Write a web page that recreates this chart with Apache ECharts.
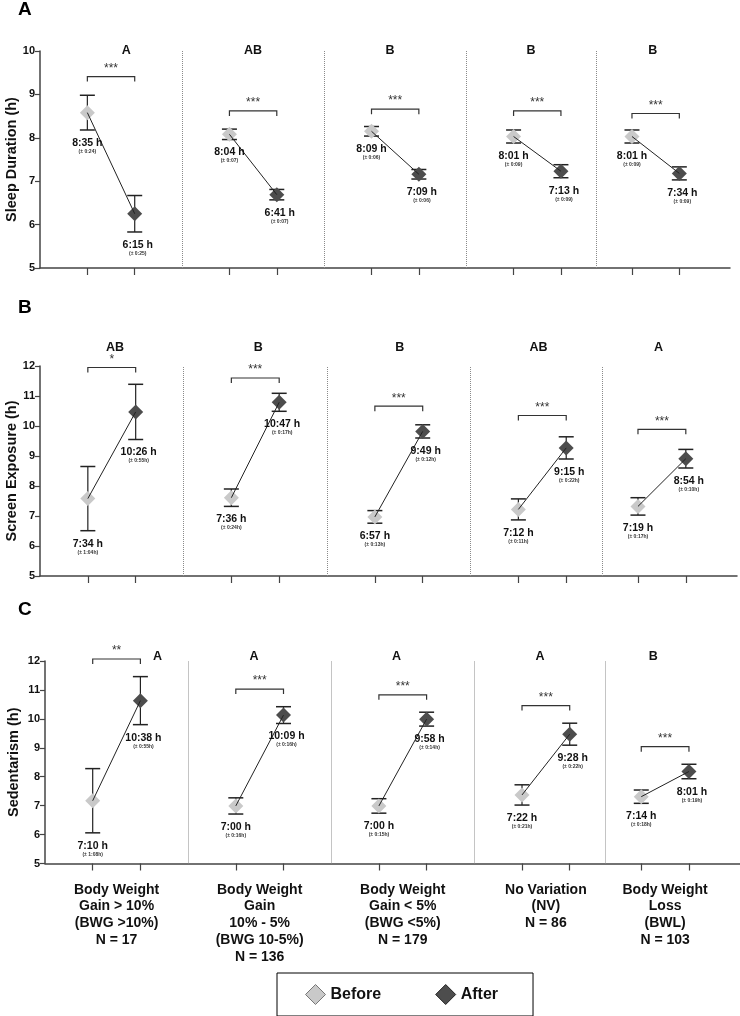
<!DOCTYPE html>
<html lang="en">
<head>
<meta charset="UTF-8">
<title>Before / After by body weight group</title>
<script src="https://cdn.jsdelivr.net/npm/echarts@6/dist/echarts.min.js"></script>
<style>
  html, body { margin: 0; padding: 0; background: #fff; }
  #chart { width: 740px; height: 1016px; }
</style>
</head>
<body>
<div id="chart"></div>
<script>
// slots on the shared x value axis
var beforeX = [1, 4, 7, 10, 12.5];
var afterX = [2, 5, 8, 11, 13.5];
var dividerX = [3, 6, 9, 11.75];
var groupCenters = [1.5, 4.5, 7.5, 10.5, 13];
var groupLabels = [
  'Body Weight\nGain > 10%\n(BWG >10%)\nN = 17',
  'Body Weight\nGain\n10% - 5%\n(BWG 10-5%)\nN = 136',
  'Body Weight\nGain < 5%\n(BWG <5%)\nN = 179',
  'No Variation\n(NV)\nN = 86',
  'Body Weight\nLoss\n(BWL)\nN = 103'
];

// A - sleep duration (h)
var sleepBefore = [8.58, 8.08, 8.15, 8.03, 8.03];
var sleepBeforeErr = [0.40, 0.12, 0.11, 0.15, 0.15];
var sleepAfter = [6.25, 6.69, 7.16, 7.23, 7.18];
var sleepAfterErr = [0.42, 0.12, 0.11, 0.15, 0.15];
var sleepBeforeText = ['8:35 h', '8:04 h', '8:09 h', '8:01 h', '8:01 h'];
var sleepBeforeSd = ['(± 0:24)', '(± 0:07)', '(± 0:06)', '(± 0:09)', '(± 0:09)'];
var sleepAfterText = ['6:15 h', '6:41 h', '7:09 h', '7:13 h', '7:34 h'];
var sleepAfterSd = ['(± 0:25)', '(± 0:07)', '(± 0:06)', '(± 0:09)', '(± 0:09)'];
var sleepSig = ['***', '***', '***', '***', '***'];
var sleepSigY = [9.41, 8.62, 8.66, 8.62, 8.56];
var sleepLetters = ['A', 'AB', 'B', 'B', 'B'];

// B - screen exposure (h)
var screenBefore = [7.58, 7.61, 6.97, 7.22, 7.32];
var screenBeforeErr = [1.07, 0.29, 0.21, 0.35, 0.29];
var screenAfter = [10.47, 10.79, 9.82, 9.27, 8.91];
var screenAfterErr = [0.92, 0.30, 0.22, 0.37, 0.31];
var screenBeforeText = ['7:34 h', '7:36 h', '6:57 h', '7:12 h', '7:19 h'];
var screenBeforeSd = ['(± 1:04h)', '(± 0:24h)', '(± 0:13h)', '(± 0:11h)', '(± 0:17h)'];
var screenAfterText = ['10:26 h', '10:47 h', '9:49 h', '9:15 h', '8:54 h'];
var screenAfterSd = ['(± 0:55h)', '(± 0:17h)', '(± 0:12h)', '(± 0:22h)', '(± 0:10h)'];
var screenSig = ['*', '***', '***', '***', '***'];
var screenSigY = [11.95, 11.6, 10.66, 10.35, 9.89];
var screenLetters = ['AB', 'B', 'B', 'AB', 'A'];

// C - sedentarism (h)
var sedBefore = [7.17, 6.99, 6.99, 7.37, 7.31];
var sedBeforeErr = [1.11, 0.28, 0.25, 0.35, 0.23];
var sedAfter = [10.63, 10.13, 9.99, 9.47, 8.18];
var sedAfterErr = [0.83, 0.29, 0.24, 0.38, 0.25];
var sedBeforeText = ['7:10 h', '7:00 h', '7:00 h', '7:22 h', '7:14 h'];
var sedBeforeSd = ['(± 1:08h)', '(± 0:16h)', '(± 0:15h)', '(± 0:21h)', '(± 0:18h)'];
var sedAfterText = ['10:38 h', '10:09 h', '9:58 h', '9:28 h', '8:01 h'];
var sedAfterSd = ['(± 0:55h)', '(± 0:16h)', '(± 0:14h)', '(± 0:22h)', '(± 0:19h)'];
var sedSig = ['**', '***', '***', '***', '***'];
var sedSigY = [12.07, 11.03, 10.83, 10.46, 9.04];
var sedLetters = ['A', 'A', 'A', 'A', 'B'];

var FONT = '"Liberation Sans", Arial, Helvetica, sans-serif';
var BEFORE_COLOR = '#c9c9c9';
var AFTER_COLOR = '#4d4d4d';

var panels = [
  {tag: 'A', tagTop: 0, name: 'Sleep Duration (h)', nameGap: 21, min: 5, max: 10,
   grid: {left: 40, right: 10, top: 51, height: 217},
   before: sleepBefore, beforeErr: sleepBeforeErr, after: sleepAfter, afterErr: sleepAfterErr,
   beforeText: sleepBeforeText, beforeSd: sleepBeforeSd, afterText: sleepAfterText, afterSd: sleepAfterSd,
   sig: sleepSig, sigY: sleepSigY, letters: sleepLetters,
   letterX: [1.82, 4.5, 7.39, 10.37, 12.94], letterY: 10},
  {tag: 'B', tagTop: 298, name: 'Screen Exposure (h)', nameGap: 21, min: 5, max: 12,
   grid: {left: 40, right: 3, top: 366, height: 210},
   before: screenBefore, beforeErr: screenBeforeErr, after: screenAfter, afterErr: screenAfterErr,
   beforeText: screenBeforeText, beforeSd: screenBeforeSd, afterText: screenAfterText, afterSd: screenAfterSd,
   sig: screenSig, sigY: screenSigY, letters: screenLetters,
   letterX: [1.57, 4.56, 7.52, 10.42, 12.93], letterY: 12.63},
  {tag: 'C', tagTop: 600, name: 'Sedentarism (h)', nameGap: 24, min: 5, max: 12,
   grid: {left: 45, right: 0, top: 661, height: 202.5},
   before: sedBefore, beforeErr: sedBeforeErr, after: sedAfter, afterErr: sedAfterErr,
   beforeText: sedBeforeText, beforeSd: sedBeforeSd, afterText: sedAfterText, afterSd: sedAfterSd,
   sig: sedSig, sigY: sedSigY, letters: sedLetters,
   letterX: [2.36, 4.38, 7.37, 10.38, 12.75], letterY: 12.15}
];

var grids = [], xAxes = [], yAxes = [], series = [], graphics = [];

panels.forEach(function (p, i) {
  var last = i === panels.length - 1;
  var g0 = p.grid;
  grids.push({left: g0.left, right: g0.right, top: g0.top, height: g0.height,
              containLabel: false, outerBoundsMode: 'none'});

  xAxes.push({
    gridIndex: i, type: 'value', min: 0, max: 14.57,
    axisLine: {show: true, lineStyle: {color: '#444', width: 1.5}},
    axisTick: {show: true, customValues: beforeX.concat(afterX), length: 7,
               lineStyle: {color: '#444', width: 1.2}},
    splitLine: {show: false},
    axisLabel: last ? {
      show: true, customValues: groupCenters, margin: 18,
      fontFamily: FONT, fontSize: 14, fontWeight: 'bold', lineHeight: 16.7, color: '#111',
      formatter: function (v) {
        var k = 0;
        groupCenters.forEach(function (c, j) { if (Math.abs(c - v) < 0.01) k = j; });
        return groupLabels[k];
      }
    } : {show: false}
  });

  yAxes.push({
    gridIndex: i, type: 'value', min: p.min, max: p.max, interval: 1,
    name: p.name, nameLocation: 'middle', nameGap: p.nameGap, nameMoveOverlap: false,
    nameTextStyle: {fontFamily: FONT, fontSize: 14.5, fontWeight: 'bold', color: '#111'},
    axisLine: {show: true, lineStyle: {color: '#444', width: 1.5}},
    axisTick: {show: true, length: 5, lineStyle: {color: '#444', width: 1.2}},
    axisLabel: {fontFamily: FONT, fontSize: 11, fontWeight: 'bold', color: '#111', margin: 5},
    splitLine: {show: false}
  });

  graphics.push({type: 'text', left: 18, top: p.tagTop,
    style: {text: p.tag, font: 'bold 19px ' + FONT, fill: '#000'}});

  // error bars (drawn under diamonds), plus the dotted dividers
  var errData = [];
  p.before.forEach(function (v, g) {
    errData.push([beforeX[g], v - p.beforeErr[g], v + p.beforeErr[g]]);
    errData.push([afterX[g], p.after[g] - p.afterErr[g], p.after[g] + p.afterErr[g]]);
  });
  series.push({
    type: 'custom', name: 'err' + i, xAxisIndex: i, yAxisIndex: i, z: 1,
    encode: {x: 0, y: [1, 2]}, data: errData,
    renderItem: function (params, api) {
      var x = api.value(0);
      var lo = api.coord([x, api.value(1)]);
      var hi = api.coord([x, api.value(2)]);
      var w = 7.5, st = {stroke: '#222', lineWidth: 1.2};
      return {type: 'group', children: [
        {type: 'line', shape: {x1: lo[0], y1: lo[1], x2: hi[0], y2: hi[1]}, style: st},
        {type: 'line', shape: {x1: lo[0] - w, y1: lo[1], x2: lo[0] + w, y2: lo[1]}, style: {stroke: '#222', lineWidth: 1.5}},
        {type: 'line', shape: {x1: hi[0] - w, y1: hi[1], x2: hi[0] + w, y2: hi[1]}, style: {stroke: '#222', lineWidth: 1.5}}
      ]};
    },
    markLine: {
      silent: true, symbol: ['none', 'none'], label: {show: false},
      lineStyle: {type: 'dotted', color: '#8a8a8a', width: 1},
      data: dividerX.map(function (x) { return {xAxis: x}; })
    }
  });

  series.push({
    type: 'scatter', name: 'Before', xAxisIndex: i, yAxisIndex: i, z: 2,
    symbol: 'diamond', symbolSize: 15, itemStyle: {color: BEFORE_COLOR, opacity: 1},
    data: p.before.map(function (v, g) { return [beforeX[g], v]; })
  });
  series.push({
    type: 'scatter', name: 'After', xAxisIndex: i, yAxisIndex: i, z: 2,
    symbol: 'diamond', symbolSize: 15, itemStyle: {color: AFTER_COLOR, opacity: 1},
    data: p.after.map(function (v, g) { return [afterX[g], v]; })
  });

  // before -> after connector
  series.push({
    type: 'custom', name: 'link' + i, xAxisIndex: i, yAxisIndex: i, z: 3,
    encode: {x: [0, 2], y: [1, 3]},
    data: p.before.map(function (v, g) { return [beforeX[g], v, afterX[g], p.after[g]]; }),
    renderItem: function (params, api) {
      var a = api.coord([api.value(0), api.value(1)]);
      var b = api.coord([api.value(2), api.value(3)]);
      return {type: 'line', shape: {x1: a[0], y1: a[1], x2: b[0], y2: b[1]},
              style: {stroke: '#222', lineWidth: 1}};
    }
  });

  // significance brackets
  series.push({
    type: 'custom', name: 'sig' + i, xAxisIndex: i, yAxisIndex: i, z: 3,
    encode: {x: [0, 1], y: 2},
    data: p.sigY.map(function (y, g) { return [beforeX[g], afterX[g], y, g]; }),
    renderItem: function (params, api) {
      var a = api.coord([api.value(0), api.value(2)]);
      var b = api.coord([api.value(1), api.value(2)]);
      return {type: 'group', children: [
        {type: 'polyline', shape: {points: [[a[0], a[1] + 5], [a[0], a[1]], [b[0], b[1]], [b[0], b[1] + 5]]},
         style: {stroke: '#333', lineWidth: 1.2, fill: null}},
        {type: 'text', x: (a[0] + b[0]) / 2, y: a[1] - 2,
         style: {text: p.sig[api.value(3)], font: '12px ' + FONT, fill: '#333',
                 align: 'center', verticalAlign: 'bottom'}}
      ]};
    }
  });

  // group letters
  series.push({
    type: 'custom', name: 'letters' + i, xAxisIndex: i, yAxisIndex: i, z: 3, clip: false,
    encode: {x: 0, y: 1},
    data: p.letters.map(function (t, g) { return [p.letterX[g], p.letterY, g]; }),
    renderItem: function (params, api) {
      var c = api.coord([api.value(0), api.value(1)]);
      return {type: 'text', x: c[0], y: c[1],
              style: {text: p.letters[api.value(2)], font: 'bold 12.5px ' + FONT, fill: '#111',
                      align: 'center', verticalAlign: 'middle'}};
    }
  });

  // value labels under the lower whisker
  var valData = [];
  p.before.forEach(function (v, g) {
    valData.push([beforeX[g], v - p.beforeErr[g], g, 0]);
    valData.push([afterX[g], p.after[g] - p.afterErr[g], g, 1]);
  });
  series.push({
    type: 'custom', name: 'vals' + i, xAxisIndex: i, yAxisIndex: i, z: 4, clip: false,
    encode: {x: 0, y: 1}, data: valData,
    renderItem: function (params, api) {
      var g = api.value(2), side = api.value(3);
      var c = api.coord([api.value(0), api.value(1)]);
      var dx = side ? 3 : 0;
      return {type: 'group', children: [
        {type: 'text', x: c[0] + dx, y: c[1] + 13,
         style: {text: side ? p.afterText[g] : p.beforeText[g], font: 'bold 10.5px ' + FONT,
                 fill: '#111', align: 'center', verticalAlign: 'middle'}},
        {type: 'text', x: c[0] + dx, y: c[1] + 21.5,
         style: {text: side ? p.afterSd[g] : p.beforeSd[g], font: 'bold 5px ' + FONT,
                 fill: '#333', align: 'center', verticalAlign: 'middle'}}
      ]};
    }
  });
});

var myChart = echarts.init(document.getElementById('chart'));
myChart.setOption({
  animation: false,
  textStyle: {fontFamily: FONT},
  grid: grids,
  xAxis: xAxes,
  yAxis: yAxes,
  graphic: graphics,
  legend: {
    left: 277, top: 973, orient: 'horizontal',
    icon: 'diamond', itemWidth: 20, itemHeight: 20, itemGap: 54,
    padding: [11, 35, 11, 28],
    borderColor: '#000', borderWidth: 1,
    textStyle: {fontFamily: FONT, fontSize: 16, fontWeight: 'bold', color: '#111'},
    data: [
      {name: 'Before', itemStyle: {color: BEFORE_COLOR, borderColor: '#777', borderWidth: 1}},
      {name: 'After', itemStyle: {color: AFTER_COLOR, borderColor: '#222', borderWidth: 1}}
    ]
  },
  series: series
});
</script>
</body>
</html>
